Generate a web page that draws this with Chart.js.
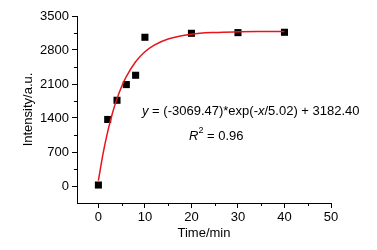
<!DOCTYPE html>
<html>
<head>
<meta charset="utf-8">
<script src="https://cdn.jsdelivr.net/npm/chart.js@4.4.0/dist/chart.umd.min.js"></script>
<style>
  html, body { margin: 0; padding: 0; background: #fff; }
  #wrap { width: 377px; height: 250px; }
</style>
</head>
<body>
<div id="wrap"><canvas id="fitChart"></canvas></div>
<script>
// measured points
var timeMin = [0, 2, 4, 6, 8, 10, 20, 30, 40];
var intensity = [20, 1370, 1765, 2088, 2280, 3062, 3144, 3158, 3165];
// fit curve
var fitX = [0, 1, 2, 3, 4, 5, 6, 8, 10, 12, 15, 20, 25, 30, 35, 40];
var fitY = [113, 667, 1121, 1494, 1799, 2049, 2253, 2558, 2763, 2901, 3027, 3125, 3161, 3174, 3179, 3181];
// ticks
var xTicks = [0, 10, 20, 30, 40, 50];
var yTicks = [0, 700, 1400, 2100, 2800, 3500];
var xMinor = [5, 15, 25, 35, 45];
var yMinor = [350, 1050, 1750, 2450, 3150];

var FONT = "'Liberation Sans', Arial, sans-serif";

var scatterData = timeMin.map(function(t, i) { return {x: t, y: intensity[i]}; });
var fitData = fitX.map(function(t, i) { return {x: t, y: fitY[i]}; });

// minor ticks + equation text
var extras = {
  id: 'extras',
  afterDraw: function(chart) {
    var c = chart.ctx, xs = chart.scales.x, ys = chart.scales.y;
    var a = chart.chartArea;
    c.save();
    c.strokeStyle = '#000';
    c.lineWidth = 1;
    c.beginPath();
    xMinor.forEach(function(v) {
      var px = Math.round(xs.getPixelForValue(v)) + 0.5;
      c.moveTo(px, a.bottom); c.lineTo(px, a.bottom + 3);
    });
    yMinor.forEach(function(v) {
      var py = Math.round(ys.getPixelForValue(v)) + 0.5;
      c.moveTo(a.left, py); c.lineTo(a.left - 3, py);
    });
    c.stroke();

    c.fillStyle = '#000';
    c.textBaseline = 'middle';
    var parts = [
      ['italic', 'y'], ['', ' = (-3069.47)*exp(-'], ['italic', 'x'], ['', '/5.02) + 3182.40']
    ];
    var x = 142, y = 111;
    parts.forEach(function(p) {
      c.font = (p[0] ? p[0] + ' ' : '') + '13px ' + FONT;
      c.fillText(p[1], x, y);
      x += c.measureText(p[1]).width;
    });
    x = 189; y = 136;
    c.font = 'italic 13px ' + FONT;
    c.fillText('R', x, y);
    x += c.measureText('R').width;
    c.font = '9px ' + FONT;
    c.fillText('2', x, y - 5);
    x += c.measureText('2').width;
    c.font = '13px ' + FONT;
    c.fillText(' = 0.96', x, y);
    c.restore();
  }
};

var ctx = document.getElementById('fitChart').getContext('2d');
var chart = new Chart(ctx, {
  type: 'scatter',
  data: {
    datasets: [{
      type: 'line',
      label: 'fit',
      data: fitData,
      borderColor: '#e8141c',
      borderWidth: 1.5,
      pointRadius: 0,
      fill: false,
      cubicInterpolationMode: 'monotone'
    }, {
      label: 'data',
      data: scatterData,
      pointStyle: 'rect',
      pointRadius: 5,
      pointHoverRadius: 5,
      backgroundColor: '#000',
      borderColor: '#000',
      borderWidth: 0
    }]
  },
  options: {
    responsive: true,
    maintainAspectRatio: false,
    animation: false,
    layout: { padding: { left: 0, right: 46, top: 16, bottom: 0 } },
    plugins: { legend: { display: false }, tooltip: { enabled: false } },
    scales: {
      x: {
        type: 'linear',
        min: -4.6,
        max: 50,
        afterBuildTicks: function(s) { s.ticks = xTicks.map(function(v) { return {value: v}; }); },
        afterFit: function(s) { s.height = 47; },
        grid: { drawOnChartArea: false, tickLength: 5, tickColor: '#000' },
        border: { color: '#000', width: 1 },
        ticks: { color: '#000', font: { family: FONT, size: 13 }, padding: 2, maxRotation: 0,
                 callback: function(v) { return String(v); } },
        title: { display: true, text: 'Time/min', color: '#000', font: { family: FONT, size: 13 }, padding: { top: 0, bottom: 9 } }
      },
      y: {
        min: -350,
        max: 3500,
        afterBuildTicks: function(s) { s.ticks = yTicks.map(function(v) { return {value: v}; }); },
        afterFit: function(s) { s.width = 77; },
        grid: { drawOnChartArea: false, tickLength: 5, tickColor: '#000' },
        border: { color: '#000', width: 1 },
        ticks: { color: '#000', font: { family: FONT, size: 13 }, padding: 3,
                 callback: function(v) { return String(v); } },
        title: { display: true, text: 'Intensity/a.u.', color: '#000', font: { family: FONT, size: 13 }, padding: { top: 21, bottom: 0 } }
      }
    }
  },
  plugins: [extras]
});
</script>
</body>
</html>
